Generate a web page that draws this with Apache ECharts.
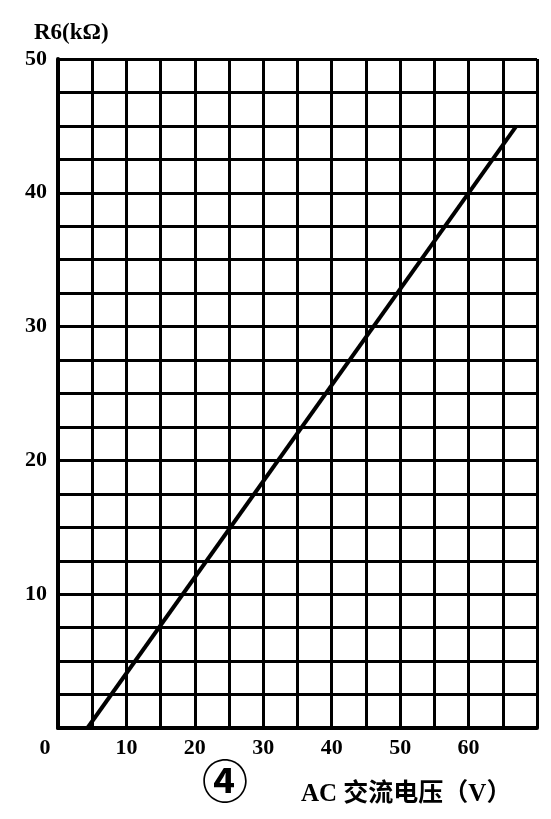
<!DOCTYPE html>
<html><head><meta charset="utf-8">
<script src="https://cdn.jsdelivr.net/npm/echarts@6/dist/echarts.min.js"></script>
<style>html,body{margin:0;padding:0;background:#fff}#c{width:551px;height:819px}</style>
</head><body><div id="c"></div>
<script>
// Data
const lineVoltage = [4.3, 67];        // AC voltage (V)
const lineR6 = [0, 45];               // R6 (kΩ)
const xTickLabels = [0, 10, 20, 30, 40, 50, 60];
const yTickLabels = [10, 20, 30, 40, 50];
const yAxisTitle = 'R6(kΩ)';
const xAxisTitle = 'AC 交流电压（V）';
const figureMark = '④';

const chart = echarts.init(document.getElementById('c'), null, {renderer: 'canvas'});
const serif = '"Liberation Serif", "DejaVu Serif", serif';
const option = {
  backgroundColor: '#fff',
  animation: false,
  grid: {left: 58, top: 59, right: 14, bottom: 91, containLabel: false},
  xAxis: {
    type: 'value', min: 0, max: 70, interval: 5,
    axisLine: {show: true, onZero: false, lineStyle: {color: '#000', width: 4}},
    axisTick: {show: false},
    splitLine: {show: true, lineStyle: {color: '#000', width: 3}},
    axisLabel: {
      margin: 9, color: '#000', fontFamily: serif, fontSize: 22, fontWeight: 'bold',
      formatter: function (v) {
        if (v === 0) return '{z|0}';
        return xTickLabels.indexOf(v) >= 0 ? String(v) : '';
      },
      rich: {z: {padding: [0, 26, 0, 0], color: '#000', fontFamily: serif, fontSize: 22, fontWeight: 'bold'}}
    }
  },
  yAxis: {
    type: 'value', min: 0, max: 50, interval: 2.5,
    axisLine: {show: true, onZero: false, lineStyle: {color: '#000', width: 4}},
    axisTick: {show: false},
    splitLine: {show: true, lineStyle: {color: '#000', width: 3}},
    axisLabel: {
      margin: 11, color: '#000', fontFamily: serif, fontSize: 22, fontWeight: 'bold',
      formatter: function (v) { return yTickLabels.indexOf(v) >= 0 ? String(v) : ''; }
    }
  },
  series: [{
    type: 'line',
    data: lineVoltage.map((x, i) => [x, lineR6[i]]),
    showSymbol: false,
    lineStyle: {color: '#000', width: 4},
    z: 5
  }],
  graphic: [
    {type: 'text', left: 34, top: 22, style: {text: yAxisTitle, fill: '#000', font: 'bold 23px ' + serif}},
    {type: 'text', left: 202, top: 758, style: {text: figureMark, fill: '#000', font: 'bold 46px "Noto Sans CJK SC"'}},
    {type: 'text', left: 301, top: 782, style: {text: xAxisTitle, fill: '#000', font: 'bold 25px ' + serif + ', "Noto Sans CJK SC"'}}
  ]
};
chart.setOption(option);
</script>
</body></html>
